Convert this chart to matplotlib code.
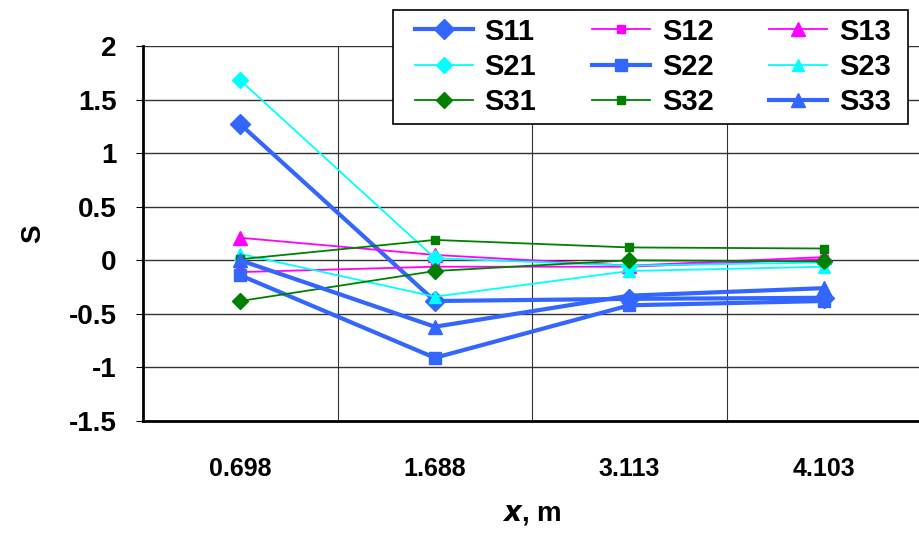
import matplotlib.pyplot as plt
from matplotlib import font_manager
from matplotlib.patches import Rectangle

plt.rcParams['font.family'] = ['Liberation Sans', 'DejaVu Sans']
plt.rcParams['font.weight'] = 'bold'

names = {f.name for f in font_manager.fontManager.ttflist}
narrow = 'Liberation Sans Narrow' if 'Liberation Sans Narrow' in names else 'Liberation Sans'

# data
x_labels = ['0.698', '1.688', '3.113', '4.103']
s11 = [1.27, -0.38, -0.36, -0.35]
s12 = [-0.11, -0.06, -0.06, 0.01]
s13 = [0.21, 0.05, -0.05, 0.03]
s21 = [1.68, 0.02, -0.05, -0.02]
s22 = [-0.14, -0.91, -0.42, -0.38]
s23 = [0.06, -0.34, -0.10, -0.06]
s31 = [-0.38, -0.10, 0.0, -0.01]
s32 = [0.01, 0.19, 0.12, 0.11]
s33 = [0.0, -0.62, -0.33, -0.26]

blue = '#3366FF'
mag = '#FF00FF'
cyan = '#00FFFF'
green = '#008000'

fig = plt.figure(figsize=(9.2, 5.33), dpi=100)
ax = fig.add_axes([0.1554, 0.2101, 0.846, 0.7036])

xs = range(len(x_labels))
lines = {}
lines['S11'] = ax.plot(xs, s11, color=blue, lw=3, marker='D', ms=10, label='S11')[0]
lines['S12'] = ax.plot(xs, s12, color=mag, lw=1.3, marker='s', ms=6, label='S12')[0]
lines['S13'] = ax.plot(xs, s13, color=mag, lw=1.3, marker='^', ms=10, label='S13')[0]
lines['S21'] = ax.plot(xs, s21, color=cyan, lw=1.3, marker='D', ms=8, label='S21')[0]
lines['S22'] = ax.plot(xs, s22, color=blue, lw=3, marker='s', ms=9, label='S22')[0]
lines['S23'] = ax.plot(xs, s23, color=cyan, lw=1.3, marker='^', ms=8, label='S23')[0]
lines['S31'] = ax.plot(xs, s31, color=green, lw=1.3, marker='D', ms=8, label='S31')[0]
lines['S32'] = ax.plot(xs, s32, color=green, lw=1.3, marker='s', ms=6, label='S32')[0]
lines['S33'] = ax.plot(xs, s33, color=blue, lw=3, marker='^', ms=10, label='S33')[0]

ax.set_xlim(-0.5, 3.5)
ax.set_ylim(-1.5, 2)
ax.set_yticks([-1.5, -1, -0.5, 0, 0.5, 1, 1.5, 2])
ax.set_yticklabels(['-1.5', '-1', '-0.5', '0', '0.5', '1', '1.5', '2'], fontsize=20, fontweight='bold')
ax.set_xticks(list(xs))
ax.set_xticklabels(x_labels, fontsize=18, fontweight='bold', family=narrow)
ax.set_xticks([0.5, 1.5, 2.5], minor=True)
ax.tick_params(axis='x', which='major', length=0, pad=26)
ax.tick_params(axis='x', which='minor', length=0)
ax.tick_params(axis='y', length=5, direction='out', pad=14)
ax.grid(True, axis='y', color='#333333', lw=1)
ax.grid(True, axis='x', which='minor', color='#333333', lw=0.8)
ax.set_axisbelow(True)
for side in ['top', 'right']:
    ax.spines[side].set_visible(False)
ax.spines['left'].set_linewidth(2)
ax.spines['bottom'].set_linewidth(2)

ax.set_ylabel('S', fontsize=20, fontweight='bold', labelpad=16)
ax.set_xlabel(r'$\boldsymbol{x}$, m', fontsize=20, fontweight='bold', family=narrow, labelpad=14)

# legend frame drawn separately so the padding can differ between sides
fig.patches.append(Rectangle((0.4272, 0.7674), 0.5598, 0.2139, transform=fig.transFigure,
                             facecolor='white', edgecolor='black', lw=1.2, zorder=4))
order = ['S11', 'S21', 'S31', 'S12', 'S22', 'S32', 'S13', 'S23', 'S33']
leg = fig.legend([lines[k] for k in order], order, ncol=3, loc='center',
                 bbox_to_anchor=(0.7095, 0.8743), frameon=False,
                 prop={'size': 21, 'weight': 'bold'},
                 handlelength=2.0, handletextpad=0.4, columnspacing=1.9,
                 labelspacing=0.25, borderpad=0, borderaxespad=0)
leg.set_zorder(5)

fig.savefig('out.png', dpi=100)
